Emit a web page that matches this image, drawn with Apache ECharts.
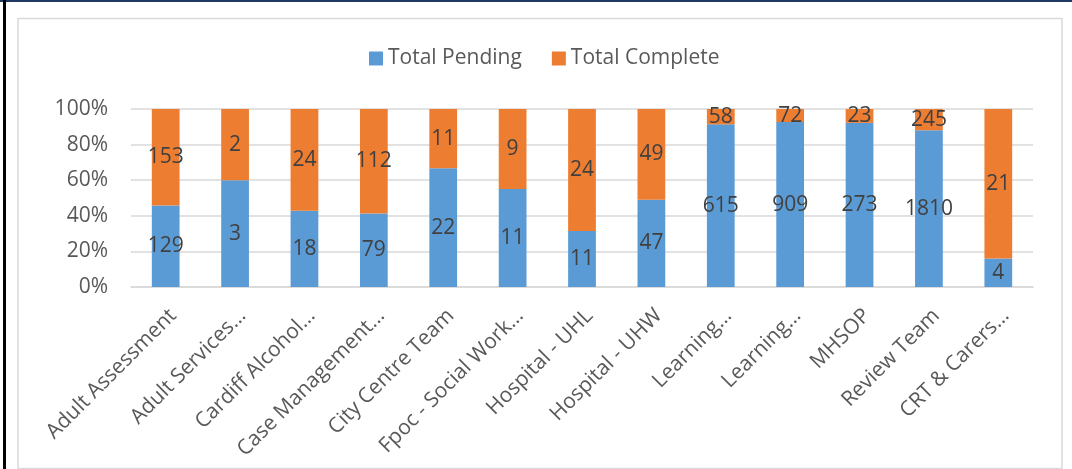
<!DOCTYPE html>
<html>
<head>
<meta charset="utf-8">
<style>
  html, body { margin: 0; padding: 0; background: #ffffff; }
  #chart { width: 1072px; height: 469px; }
</style>
<script src="https://cdn.jsdelivr.net/npm/echarts@6/dist/echarts.min.js"></script>
</head>
<body>
<div id="chart"></div>
<script>
// Teams and their case counts
const categories = [
  'Adult Assessment', 'Adult Services…', 'Cardiff Alcohol…', 'Case Management…',
  'City Centre Team', 'Fpoc - Social Work…', 'Hospital - UHL', 'Hospital - UHW',
  'Learning…', 'Learning…', 'MHSOP', 'Review Team', 'CRT & Carers…'
];
const totalPending  = [129, 3, 18, 79, 22, 11, 11, 47, 615, 909, 273, 1810, 4];
const totalComplete = [153, 2, 24, 112, 11, 9, 24, 49, 58, 72, 23, 245, 21];
const yTicks = [0, 20, 40, 60, 80, 100];

const FONT = '"Open Sans"';
const BLUE = '#5B9BD5';
const ORANGE = '#ED7D31';

// Each bar is shown as a share of its team's total (100% stacked), labelled with the raw count
function share(counts, i) {
  return 100 * counts[i] / (totalPending[i] + totalComplete[i]);
}
function seriesData(counts) {
  return counts.map((c, i) => ({ value: share(counts, i), count: c }));
}

const chart = echarts.init(document.getElementById('chart'), null, { renderer: 'canvas' });

const labelStyle = {
  show: true,
  position: 'inside',
  fontFamily: FONT,
  fontSize: 21,
  color: '#404040',
  formatter: p => String(p.data.count)
};

chart.setOption({
  animation: false,
  backgroundColor: '#ffffff',
  textStyle: { fontFamily: FONT },
  graphic: [
    { type: 'rect', shape: { x: 18, y: 18.5, width: 1044, height: 450 },
      style: { fill: 'none', stroke: '#d9d9d9', lineWidth: 1.5 }, silent: true },
    { type: 'rect', shape: { x: 0, y: 0, width: 1072, height: 2 },
      style: { fill: '#1f3864' }, silent: true },
    { type: 'rect', shape: { x: 3, y: 0, width: 3, height: 469 },
      style: { fill: '#000000' }, silent: true }
  ],
  legend: {
    top: 43,
    left: 364,
    itemWidth: 14,
    itemHeight: 14,
    itemGap: 30,
    icon: 'rect',
    textStyle: { fontFamily: FONT, fontSize: 21, color: '#595959' },
    data: ['Total Pending', 'Total Complete']
  },
  grid: { left: 131, right: 39, top: 109, bottom: 182, containLabel: false },
  xAxis: {
    type: 'category',
    data: categories,
    axisLine: { show: true, lineStyle: { color: '#d9d9d9', width: 1.5 } },
    axisTick: { show: false },
    axisLabel: {
      interval: 0,
      rotate: 45,
      margin: 18,
      verticalAlign: 'top',
      fontFamily: FONT,
      fontSize: 21,
      color: '#595959'
    }
  },
  yAxis: {
    type: 'value',
    min: 0,
    max: 100,
    interval: 20,
    axisLine: { show: false },
    axisTick: { show: false },
    splitLine: { lineStyle: { color: '#d9d9d9', width: 1.5 } },
    axisLabel: {
      margin: 23,
      fontFamily: FONT,
      fontSize: 21,
      color: '#595959',
      formatter: v => (yTicks.includes(v) ? v + '%' : '')
    }
  },
  series: [
    {
      name: 'Total Pending',
      type: 'bar',
      stack: 'total',
      barWidth: '40%',
      itemStyle: { color: BLUE },
      label: labelStyle,
      data: seriesData(totalPending)
    },
    {
      name: 'Total Complete',
      type: 'bar',
      stack: 'total',
      barWidth: '40%',
      itemStyle: { color: ORANGE },
      label: labelStyle,
      data: seriesData(totalComplete)
    }
  ]
});
</script>
</body>
</html>
